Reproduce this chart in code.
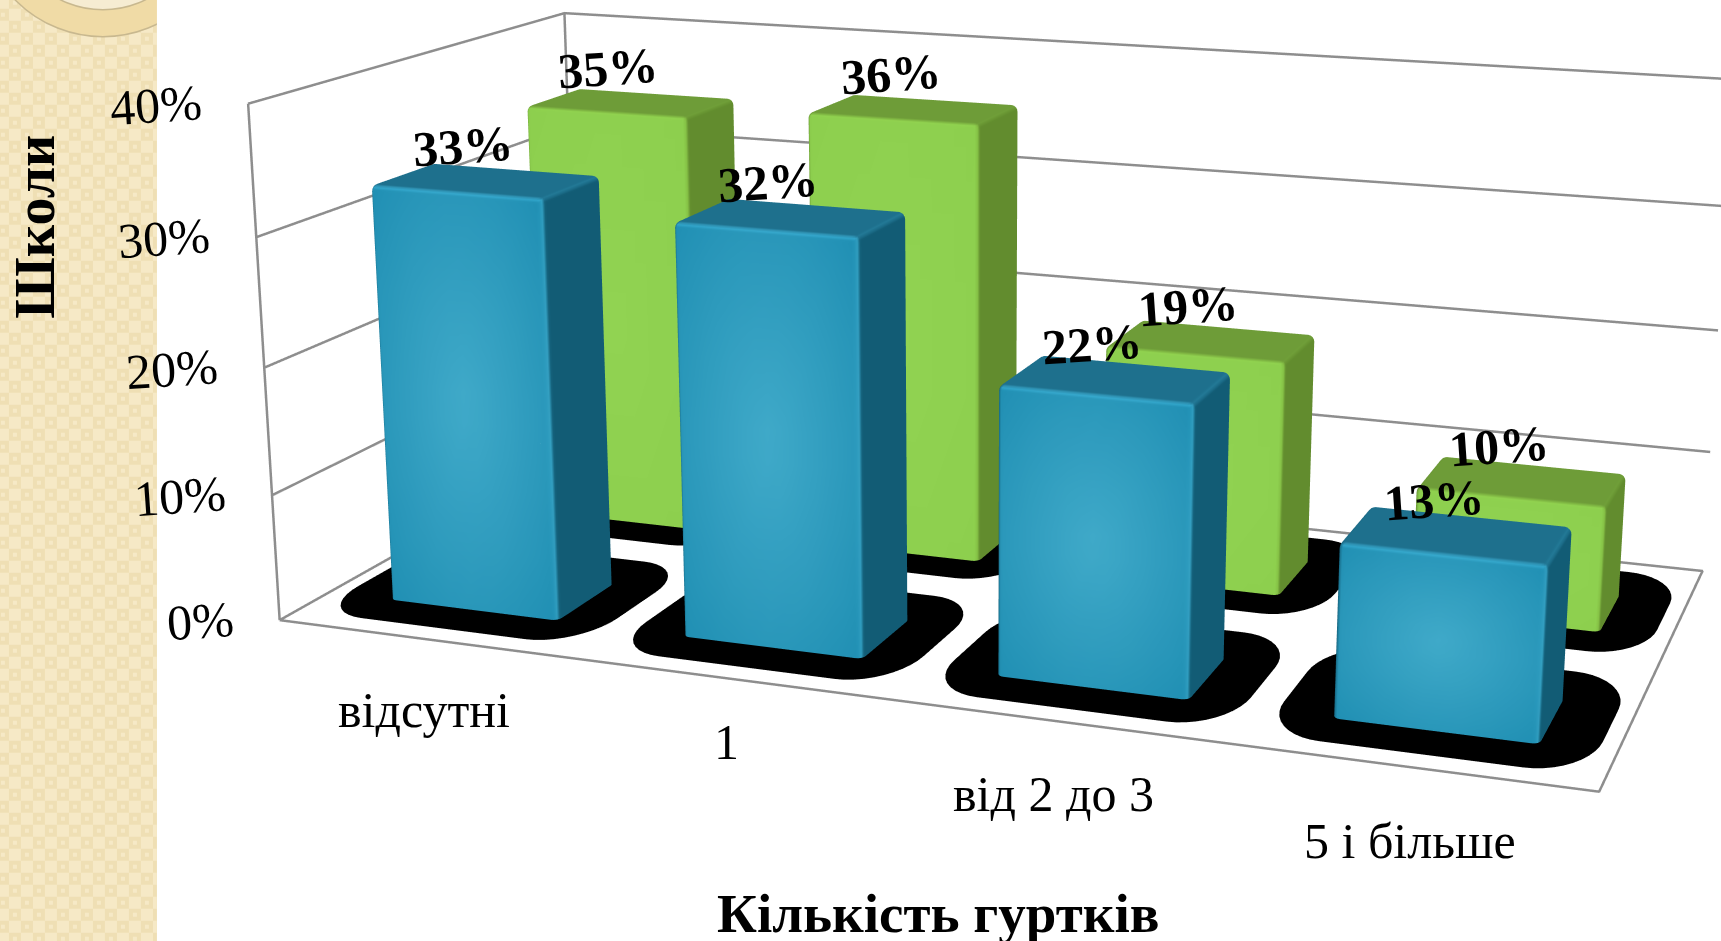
import numpy as np, plotly.graph_objects as go

# ---- data ----
categories = ["відсутні", "1", "від 2 до 3", "5 і більше"]
blue_values = [33, 32, 22, 13]
green_values = [35, 36, 19, 10]
tick_values = [0, 10, 20, 30, 40]
tick_labels = ["0%", "10%", "20%", "30%", "40%"]
y_title = "Школи"
x_title = "Кількість гуртків"

# ---- page / view ----
W, H = 1721, 941
FOCAL = 3165.99
CX, CY = 1008.06, 417.81
Hb = int(round(2 * FOCAL * np.tan(np.pi / 8)))
Wb = 2100
ox = Wb / 2 - CX
oy = Hb / 2 - CY
KX, KY, KZ = 0.25, 0.49560, 0.00990
XR, YR, ZR = [-1, 6], [-1, 2], [-10, 50]
EYE = np.array([0.78466, -2.20771, 0.58974])
CEN = np.array([0.00328, -0.01368, -0.05071])
UP = (0.01950, -0.06404, 1)
ROW_BLUE, ROW_GREEN, BAR_D, BAR_W, X0, STEP = 0.24139, 0.73961, 0.19356, 0.58139, 0.00456, 0.99835
shift = np.array([(2 - sum(XR) / 2) * KX, (.5 - sum(YR) / 2) * KY, (20 - sum(ZR) / 2) * KZ])
E, C = EYE + shift, CEN + shift


def px(a): return (a + ox) / Wb
def py(b): return 1 - (b + oy) / Hb
def rgb(c): return "rgb(%d,%d,%d)" % tuple(np.clip(np.round(c), 0, 255))


BLUE = dict(c0=np.array([64, 170, 201.]), c1=np.array([33, 144, 180.]), side=np.array([18, 92, 117.]),
            top=np.array([30, 112, 141.]), hi=np.array([22, 38, 42.]))
GREEN = dict(c0=np.array([145, 211, 82.]), c1=np.array([141, 207, 78.]), side=np.array([98, 140, 46.]),
             top=np.array([110, 156, 56.]), hi=np.array([14, 20, 8.]))


def ring_path(w, d, rx, ry, nfront=14, nside=3, narc=4):
    """unit outline: list of (core_x, core_y, nx, ny) going round a rounded rectangle"""
    hx, hy = w / 2 - rx, d / 2 - ry
    pts = []
    def edge(x0, y0, x1, y1, nx, ny, n):
        for s in np.linspace(0, 1, n, endpoint=False):
            pts.append((x0 + (x1 - x0) * s, y0 + (y1 - y0) * s, nx, ny))
    def arc(cx, cy, a0):
        for a in np.linspace(a0, a0 + np.pi / 2, narc, endpoint=False):
            pts.append((cx, cy, np.cos(a), np.sin(a)))
    edge(-hx, -hy, hx, -hy, 0, -1, nfront); arc(hx, -hy, -np.pi / 2)
    edge(hx, -hy, hx, hy, 1, 0, nside); arc(hx, hy, 0)
    edge(hx, hy, -hx, hy, 0, 1, nfront); arc(-hx, hy, np.pi / 2)
    edge(-hx, hy, -hx, -hy, -1, 0, nside); arc(-hx, -hy, np.pi)
    return pts


def bar_mesh(xc, yc, h, pal, start):
    rx, ry, rz = 0.022, 0.014, 0.55
    ring = ring_path(BAR_W, BAR_D, rx, ry)
    levels = [(z, 0.0) for z in np.linspace(0, h - rz, 14)] + [(h - rz + rz * np.sin(a), a) for a in np.linspace(0, np.pi / 2, 6)[1:]]
    vx, vy, vz, vc = [], [], [], []
    for z, a in levels:
        ca, sa = np.cos(a), np.sin(a)
        for cx_, cy_, nx, ny in ring:
            x = xc + cx_ + rx * ca * nx
            y = yc + cy_ + ry * ca * ny
            wf = max(-ny, 0) * ca; ws = max(nx, 0) * ca; wl = max(-nx, 0) * ca; wb = max(ny, 0) * ca; wt = sa
            w_ = np.array([wf, ws, wl, wb, wt]) ** 4
            w_ = w_ / w_.sum()
            rr = np.hypot((x - xc) / (BAR_W / 2), (z - h * .5) / (h / 2)) / 1.35
            front = pal['c0'] + (pal['c1'] - pal['c0']) * min(rr, 1)
            col = w_[0] * front + (w_[1] + w_[2] + w_[3]) * pal['side'] + w_[4] * pal['top']
            col = col + pal['hi'] * (4 * w_[0] * w_[1] + 4 * w_[0] * w_[4] + 2 * w_[1] * w_[4])
            vx.append(x); vy.append(y); vz.append(z); vc.append(rgb(col))
    n = len(ring); m = len(levels)
    I, J, K = [], [], []
    for l in range(m - 1):
        for p in range(n):
            a = l * n + p; b = l * n + (p + 1) % n; c = (l + 1) * n + p; d = (l + 1) * n + (p + 1) % n
            I += [a, a]; J += [b, d]; K += [d, c]
    # top cap
    capc = len(vx)
    vx.append(xc); vy.append(yc); vz.append(h); vc.append(rgb(pal['top']))
    for p in range(n):
        I.append((m - 1) * n + p); J.append((m - 1) * n + (p + 1) % n); K.append(capc)
    return vx, vy, vz, vc, [i + start for i in I], [j + start for j in J], [k + start for k in K]


def add_series(fig, values, row, pal, name):
    VX, VY, VZ, VC, I, J, K = [], [], [], [], [], [], []
    for i, v in enumerate(values):
        xc = X0 + STEP * (i + .5)
        a, b, c, d, e, f, g = bar_mesh(xc, row, v, pal, len(VX))
        VX += a; VY += b; VZ += c; VC += d; I += e; J += f; K += g
    fig.add_trace(go.Mesh3d(x=VX, y=VY, z=VZ, i=I, j=J, k=K, vertexcolor=VC, name=name, hoverinfo='skip',
                            lighting=dict(ambient=1, diffuse=0, specular=0, roughness=1, fresnel=0), flatshading=False))


def add_shadows(fig, n, row):
    VX, VY, I, J, K = [], [], [], [], []
    ex, ey = 0.16, 0.105
    w, d = BAR_W + 2 * ex, BAR_D + 2 * ey
    for i in range(n):
        xc = X0 + STEP * (i + .5)
        ring = ring_path(w, d, 0.17, 0.135, 2, 2, 10)
        s = len(VX)
        yc = row + 0.012
        VX.append(xc); VY.append(yc)
        for cx_, cy_, nx, ny in ring:
            VX.append(xc + cx_ + 0.17 * nx); VY.append(yc + cy_ + 0.135 * ny)
        for p in range(len(ring)):
            I.append(s); J.append(s + 1 + p); K.append(s + 1 + (p + 1) % len(ring))
    fig.add_trace(go.Mesh3d(x=VX, y=VY, z=[0.0] * len(VX), i=I, j=J, k=K, color='black', hoverinfo='skip',
                            lighting=dict(ambient=1, diffuse=0, specular=0, fresnel=0)))


fig = go.Figure()
add_shadows(fig, len(categories), ROW_BLUE)
add_shadows(fig, len(categories), ROW_GREEN)
add_series(fig, blue_values, ROW_BLUE, BLUE, 'blue')
add_series(fig, green_values, ROW_GREEN, GREEN, 'green')

# frame and gridlines
LINE = dict(color='#8e8e8e', width=5)
def seg(xs, ys, zs):
    fig.add_trace(go.Scatter3d(x=xs, y=ys, z=zs, mode='lines', line=LINE, hoverinfo='skip'))
seg([0, 4, 4, 0, 0], [0, 0, 1, 1, 0], [0, 0, 0, 0, 0])
seg([0, 0], [0, 0], [tick_values[0], tick_values[-1]])
seg([0, 0], [1, 1], [tick_values[0], tick_values[-1]])
for tv in tick_values[1:]:
    seg([0, 0, 4], [0, 1, 1], [tv, tv, tv])

# text
SERIF = 'Liberation Serif'
ann3d = []
for tv, tl in zip(tick_values, tick_labels):
    ann3d.append(dict(x=0, y=0, z=tv, text=tl, showarrow=False, xanchor='right', yanchor='middle',
                      xshift=-42, yshift=-1, textangle=-4, font=dict(family=SERIF, size=50, color='black')))
cat_offsets = [(-2, -71), (-5, -63), (-6, -73), (-2, -74)]
for i, c in enumerate(categories):
    dx, dy = cat_offsets[i]
    ann3d.append(dict(x=X0 + STEP * (i + .5), y=0, z=0, text=c, showarrow=False, xanchor='center', yanchor='middle',
                      xshift=dx, yshift=dy, font=dict(family=SERIF, size=50, color='black')))
for values, row in ((blue_values, ROW_BLUE), (green_values, ROW_GREEN)):
    for i, v in enumerate(values):
        ann3d.append(dict(x=X0 + STEP * (i + .5), y=row, z=v, text=f"{v}%", showarrow=False, xanchor='center', yanchor='middle',
                          xshift=-23, yshift=34, textangle=-4, font=dict(family=SERIF, size=50, color='black', weight='bold')))

scene = dict(domain=dict(x=[0, 1], y=[0, 1]), aspectmode='manual', bgcolor='rgba(0,0,0,0)',
             aspectratio=dict(x=(XR[1] - XR[0]) * KX, y=(YR[1] - YR[0]) * KY, z=(ZR[1] - ZR[0]) * KZ),
             camera=dict(eye=dict(x=E[0], y=E[1], z=E[2]), center=dict(x=C[0], y=C[1], z=C[2]),
                         up=dict(x=UP[0], y=UP[1], z=UP[2]), projection=dict(type='perspective')),
             xaxis=dict(range=XR, visible=False), yaxis=dict(range=YR, visible=False), zaxis=dict(range=ZR, visible=False),
             annotations=ann3d)

# left decorative strip
STRIP = 157
def rect(x0, y0, x1, y1, fill):
    return dict(type='rect', xref='paper', yref='paper', x0=px(x0), x1=px(x1), y0=py(y1), y1=py(y0), fillcolor=fill, line_width=0, layer='below')
def path_shape(squares, fill):
    d = ''.join(f"M{px(a):.5f},{py(b):.5f}L{px(c):.5f},{py(b):.5f}L{px(c):.5f},{py(e):.5f}L{px(a):.5f},{py(e):.5f}Z" for a, b, c, e in squares)
    return dict(type='path', path=d, xref='paper', yref='paper', fillcolor=fill, line_width=0, layer='below')
cell = 12
light, dots = [], []
for r in range(80):
    for c in range(14):
        x0, y0 = c * cell - 3, r * cell - 3
        x1 = min(x0 + cell, STRIP)
        if x1 <= max(x0, 0):
            continue
        if (r + c) % 2 == 0:
            light.append((max(x0, 0), y0, x1, y0 + cell))
        elif x0 + 8 <= STRIP:
            dots.append((x0 + 4, y0 + 4, x0 + 8, y0 + 8))
shapes = [rect(0, -5, STRIP, H + 5, '#efdfb4'), path_shape(light, '#f6e9c6'), path_shape(dots, '#f6e9c6')]
def circ(cx, cy, r, fill, line):
    return dict(type='circle', xref='paper', yref='paper', x0=px(cx - r), x1=px(cx + r), y0=py(cy + r), y1=py(cy - r),
                fillcolor=fill, line=dict(color=line, width=1.5), layer='below')
shapes += [circ(103, -86, 123, '#f0dba6', '#c8b88f'), circ(103, -86, 96, '#f6ecd2', '#c8b88f'),
           rect(STRIP, -120, 240, 60, 'white')]

ann2d = [dict(text=y_title, xref='paper', yref='paper', x=px(35), y=py(227), xanchor='center', yanchor='middle', textangle=-90, showarrow=False,
              font=dict(family=SERIF, size=56, color='black', weight='bold')),
         dict(text=x_title, xref='paper', yref='paper', x=px(938), y=py(914), xanchor='center', yanchor='middle', showarrow=False,
              font=dict(family=SERIF, size=55, color='black', weight='bold'))]

fig.update_layout(width=Wb, height=Hb, margin=dict(l=0, r=0, t=0, b=0), scene=scene, showlegend=False,
                  paper_bgcolor='white', shapes=shapes, annotations=ann2d)
ps = (f"document.documentElement.style.overflow='hidden';document.body.style.margin='0';document.body.style.overflow='hidden';"
      f"var d=document.querySelector('.plotly-graph-div');d.style.position='absolute';d.style.left='{-ox}px';d.style.top='{-oy}px';")
fig.write_html('out.html', post_script=ps, config=dict(displayModeBar=False))
